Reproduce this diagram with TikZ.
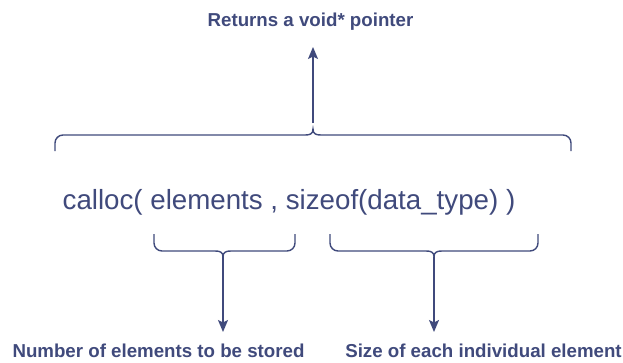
\documentclass[tikz,border=0pt]{standalone}
\usepackage{fontspec}
\setmainfont{Liberation Sans}
\usetikzlibrary{arrows.meta}
\definecolor{ink}{RGB}{64,74,124}
\begin{document}
\begin{tikzpicture}[x=1pt,y=-1pt,
  ln/.style={draw=ink, line width=1.4pt},
  arr/.style={ln, -{Stealth[length=12pt,width=10pt,inset=2.5pt]}},
  lbl/.style={text=ink, inner sep=0pt, anchor=base, font=\fontsize{18.7}{20}\selectfont\bfseries},
  code/.style={text=ink, inner sep=0pt, anchor=base, font=\fontsize{27.7}{30}\selectfont}]
\useasboundingbox[fill=white] (0,0) rectangle (623,362);

% texts
\node[lbl] (ret) at (310.5,26) {Returns a void* pointer};
\node[code] (call) at (289,209) {calloc( elements , sizeof(data\_type) )};
\node[lbl] (num) at (158.5,357) {Number of elements to be stored};
\node[lbl] (size) at (483.5,357) {Size of each individual element};

% connector points
\coordinate (tc) at (313,129);
\coordinate (rettip) at (313,47);
\coordinate (c1) at (223,257);
\coordinate (numtip) at (223,332);
\coordinate (c2) at (434,257);
\coordinate (sizetip) at (434,332);

% top brace
\draw[ln] (55,151) -- (55,143) .. controls (55,138.6) and (58.6,135) .. (63,135)
  -- (305,135) .. controls (310,135) and (313,134) .. (tc)
  .. controls (313,134) and (316,135) .. (321,135)
  -- (563,135) .. controls (567.4,135) and (571,138.6) .. (571,143) -- (571,151);

% bottom brace 1
\draw[ln] (154,234) -- (154,243) .. controls (154,247.4) and (157.6,251) .. (162,251)
  -- (215,251) .. controls (220,251) and (223,252) .. (c1)
  .. controls (223,252) and (226,251) .. (231,251)
  -- (287,251) .. controls (291.4,251) and (295,247.4) .. (295,243) -- (295,234);

% bottom brace 2
\draw[ln] (330,234) -- (330,243) .. controls (330,247.4) and (333.6,251) .. (338,251)
  -- (426,251) .. controls (431,251) and (434,252) .. (c2)
  .. controls (434,252) and (437,251) .. (442,251)
  -- (530,251) .. controls (534.4,251) and (538,247.4) .. (538,243) -- (538,234);

% arrows
\draw[arr] (tc) ++(0,-6) -- (rettip);
\draw[arr] (c1) -- (numtip);
\draw[arr] (c2) -- (sizetip);
\end{tikzpicture}
\end{document}
